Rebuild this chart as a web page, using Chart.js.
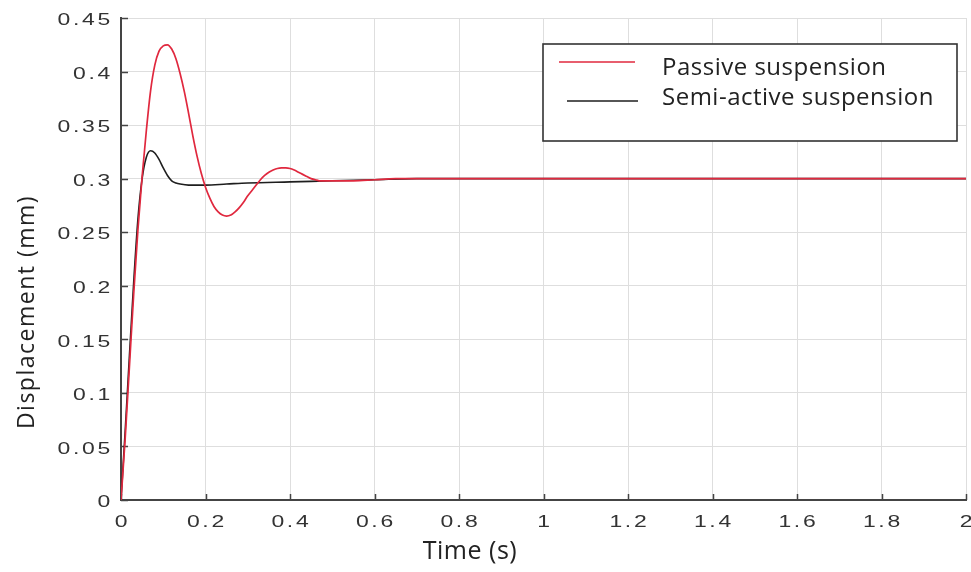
<!DOCTYPE html>
<html lang="en">
<head>
  <meta charset="UTF-8">
  <title>Displacement response</title>
  <style>
    *{
      margin: 0;
      padding: 0;
    }
    body{
      background: #fff;
    }
    .chartBox{
      width: 971px;
      height: 572px;
      position: relative;
    }
  </style>
</head>
<body>
  <div class="chartBox">
    <canvas id="myChart"></canvas>
  </div>
  <script src="https://cdn.jsdelivr.net/npm/chart.js"></script>
  <script>
    // passive suspension (red)
    const passiveTime = [0, 0.01, 0.02, 0.03, 0.04, 0.05, 0.06, 0.07, 0.08, 0.09,
      0.10, 0.11, 0.12, 0.13, 0.14, 0.15, 0.16, 0.17, 0.18, 0.19,
      0.20, 0.21, 0.22, 0.23, 0.24, 0.25, 0.26, 0.27, 0.28, 0.29,
      0.30, 0.31, 0.32, 0.33, 0.34, 0.35, 0.36, 0.37, 0.38, 0.39,
      0.40, 0.41, 0.42, 0.43, 0.44, 0.45, 0.46, 0.47, 0.48, 0.49,
      0.50, 0.55, 0.60, 0.65, 0.70, 0.80, 1.0, 1.5, 2.0];
    const passiveDisp = [0, 0.058, 0.125, 0.192, 0.252, 0.302, 0.345, 0.382, 0.406, 0.419,
      0.424, 0.425, 0.421, 0.412, 0.398, 0.381, 0.361, 0.340, 0.321, 0.305,
      0.292, 0.282, 0.274, 0.269, 0.266, 0.265, 0.266, 0.269, 0.273, 0.278,
      0.284, 0.289, 0.294, 0.299, 0.303, 0.306, 0.308, 0.3095, 0.310, 0.310,
      0.3095, 0.308, 0.306, 0.304, 0.302, 0.300, 0.299, 0.298, 0.298, 0.298,
      0.298, 0.298, 0.299, 0.300, 0.300, 0.300, 0.300, 0.300, 0.300];

    // semi-active suspension (black)
    const semiTime = [0, 0.01, 0.02, 0.03, 0.04, 0.05, 0.06, 0.07, 0.08, 0.09, 0.10, 0.11, 0.12, 0.13, 0.14,
      0.16, 0.18, 0.20, 0.25, 0.30, 0.40, 0.50, 0.60, 0.70, 1.0, 1.5, 2.0];
    const semiDisp = [0, 0.065, 0.135, 0.203, 0.262, 0.300, 0.320, 0.326, 0.324, 0.318, 0.310, 0.303, 0.298,
      0.296, 0.295, 0.294, 0.294, 0.294, 0.295, 0.296, 0.297, 0.298, 0.299, 0.300, 0.300, 0.300, 0.300];

    const seriesLabels = ['Passive suspension', 'Semi-active suspension'];
    const xTitle = 'Time (s)';
    const yTitle = 'Displacement (mm)';

    const toPoints = (xs, ys) => xs.map((x, i) => ({x: x, y: ys[i]}));
    const fmt = v => String(Number(v.toFixed(2)));

    const data = {
      datasets: [{
        label: seriesLabels[0],
        data: toPoints(passiveTime, passiveDisp),
        borderColor: '#e0283e',
        borderWidth: 1.7,
        pointRadius: 0,
        cubicInterpolationMode: 'monotone'
      }, {
        label: seriesLabels[1],
        data: toPoints(semiTime, semiDisp),
        borderColor: '#1e1e1e',
        borderWidth: 1.6,
        pointRadius: 0,
        cubicInterpolationMode: 'monotone'
      }]
    };

    // the tick labels in the picture are stretched sideways, so they are drawn here
    const STRETCH = 1.35;
    function drawTickLabels(chart){
      const {ctx, chartArea, scales} = chart;
      ctx.save();
      ctx.font = '17px "Liberation Sans"';
      ctx.fillStyle = '#333';
      ctx.letterSpacing = '2px';
      ctx.textBaseline = 'middle';

      ctx.textAlign = 'right';
      scales.y.ticks.forEach(t => {
        ctx.save();
        ctx.translate(chartArea.left - 8, scales.y.getPixelForValue(t.value) + 2.5);
        ctx.scale(STRETCH, 1);
        ctx.fillText(fmt(t.value), 0, 0);
        ctx.restore();
      });

      ctx.textAlign = 'center';
      scales.x.ticks.forEach(t => {
        ctx.save();
        ctx.translate(scales.x.getPixelForValue(t.value) + 1.4, chartArea.bottom + 22);
        ctx.scale(STRETCH, 1);
        ctx.fillText(fmt(t.value), 0, 0);
        ctx.restore();
      });
      ctx.restore();
    }

    // tick marks pointing into the plot, titles and the boxed legend
    const decorations = {
      id: 'decorations',
      beforeDatasetsDraw(chart){
        const {ctx, chartArea, scales} = chart;
        ctx.save();
        ctx.strokeStyle = '#444';
        ctx.lineWidth = 1.5;
        ctx.beginPath();
        scales.y.ticks.forEach(t => {
          const py = Math.round(scales.y.getPixelForValue(t.value)) + 0.5;
          ctx.moveTo(chartArea.left, py);
          ctx.lineTo(chartArea.left + 7, py);
        });
        scales.x.ticks.forEach(t => {
          const px = Math.round(scales.x.getPixelForValue(t.value)) + 0.5;
          ctx.moveTo(px, chartArea.bottom);
          ctx.lineTo(px, chartArea.bottom - 6);
        });
        ctx.stroke();
        ctx.restore();
      },
      afterDraw(chart){
        const {ctx, chartArea} = chart;
        drawTickLabels(chart);

        ctx.save();
        ctx.letterSpacing = '0.5px';
        ctx.fillStyle = '#222';

        // axis titles
        ctx.font = '25px "Open Sans"';
        ctx.textAlign = 'center';
        ctx.textBaseline = 'middle';
        ctx.fillText(xTitle, chartArea.left + 0.413 * (chartArea.right - chartArea.left), 552);
        ctx.save();
        ctx.translate(27, 312);
        ctx.rotate(-Math.PI / 2);
        ctx.letterSpacing = '1.5px';
        ctx.font = '23px "Open Sans"';
        ctx.fillText(yTitle, 0, 0);
        ctx.restore();

        // legend box
        const bx = 543, by = 44, bw = 414, bh = 97;
        ctx.fillStyle = '#fff';
        ctx.fillRect(bx, by, bw, bh);
        ctx.strokeStyle = '#333';
        ctx.lineWidth = 1.6;
        ctx.strokeRect(bx, by, bw, bh);

        const rows = [
          {y: 62, x0: 559, x1: 635, ty: 68},
          {y: 101, x0: 567, x1: 638, ty: 98}
        ];
        ctx.font = '24px "Open Sans"';
        ctx.textAlign = 'left';
        ctx.textBaseline = 'middle';
        chart.data.datasets.forEach((ds, i) => {
          const r = rows[i];
          ctx.strokeStyle = ds.borderColor;
          ctx.lineWidth = 1.5;
          ctx.beginPath();
          ctx.moveTo(r.x0, r.y);
          ctx.lineTo(r.x1, r.y);
          ctx.stroke();
          ctx.fillStyle = '#222';
          ctx.fillText(ds.label, 662, r.ty);
        });
        ctx.restore();
      }
    };

    const config = {
      type: 'line',
      data,
      options: {
        responsive: true,
        maintainAspectRatio: false,
        animation: false,
        layout: {
          padding: {top: 18, right: 5, left: 0, bottom: 0}
        },
        plugins: {
          legend: {display: false},
          tooltip: {enabled: false}
        },
        scales: {
          x: {
            type: 'linear',
            min: 0,
            max: 2,
            ticks: {stepSize: 0.2, display: false},
            grid: {color: '#dedede', lineWidth: 1, drawTicks: false},
            border: {color: '#444', width: 2},
            afterFit(scale){
              scale.height = 72;
              scale.paddingLeft = 0;
              scale.paddingRight = 0;
            }
          },
          y: {
            min: 0,
            max: 0.45,
            ticks: {stepSize: 0.05, display: false},
            grid: {color: '#dedede', lineWidth: 1, drawTicks: false},
            border: {color: '#444', width: 2},
            afterFit(scale){
              scale.width = 121;
              scale.paddingTop = 0;
              scale.paddingBottom = 0;
            }
          }
        }
      },
      plugins: [decorations]
    };

    const myChart = new Chart(
      document.getElementById('myChart'),
      config
    );
  </script>
</body>
</html>
